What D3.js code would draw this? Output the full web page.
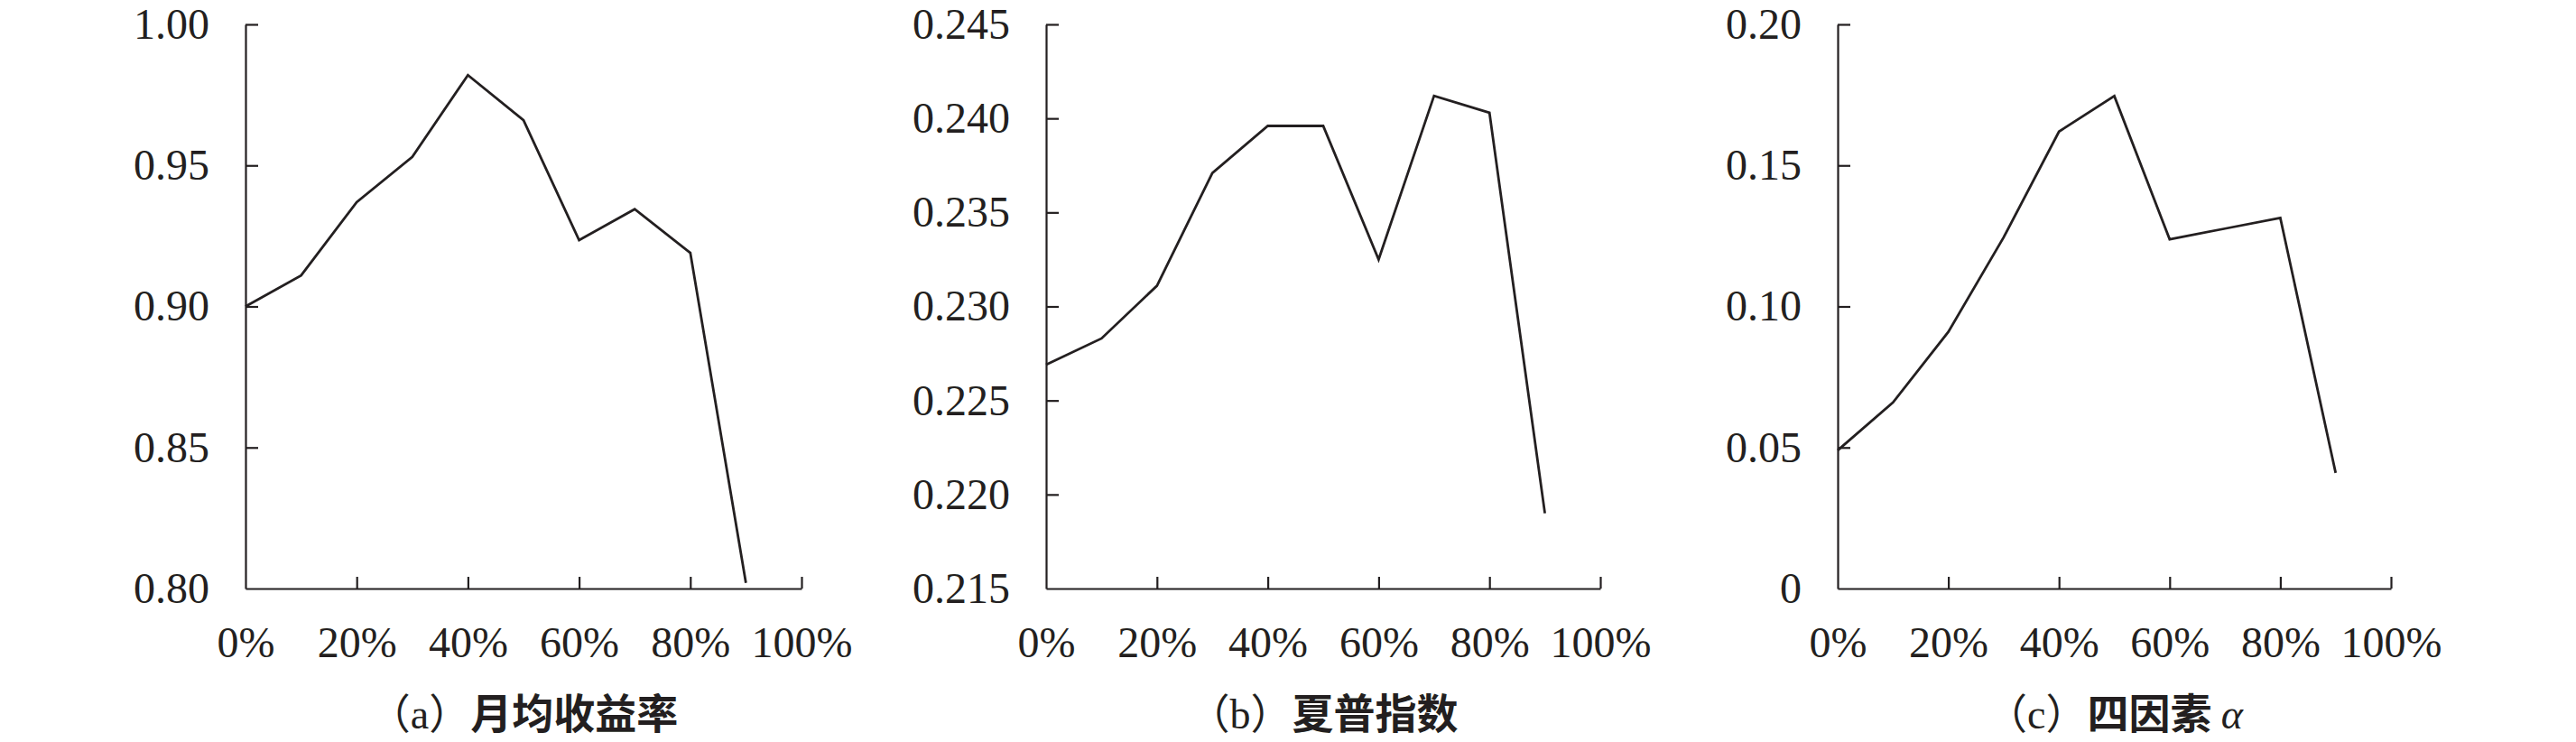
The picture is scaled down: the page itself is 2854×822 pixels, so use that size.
<!DOCTYPE html>
<html>
<head>
<meta charset="utf-8">
<script src="https://cdn.jsdelivr.net/npm/d3@7"></script>
<style>
  html, body { margin: 0; padding: 0; background: #fff; }
  svg { display: block; }
  .tick text { font-family: "Liberation Serif", "Times New Roman", serif; fill: #231f20; }
</style>
</head>
<body>
<svg id="chart" width="2854" height="822"></svg>
<script>
// ---------------- data ----------------
const xValues = [0, 10, 20, 30, 40, 50, 60, 70, 80, 90];          // percentage
const xTickValues = [0, 20, 40, 60, 80, 100];
const xTickLabels = ["0%", "20%", "40%", "60%", "80%", "100%"];

const returnValues = [0.900, 0.911, 0.937, 0.953, 0.982, 0.966, 0.9235, 0.9345, 0.919, 0.802];
const sharpeValues = [0.2269, 0.2283, 0.2311, 0.2371, 0.2396, 0.2396, 0.2325, 0.2412, 0.2403, 0.2190];
const alphaValues  = [0.049, 0.066, 0.091, 0.1245, 0.162, 0.1746, 0.1238, 0.1276, 0.1314, 0.041];

const yTicksA = [0.80, 0.85, 0.90, 0.95, 1.00];
const yLabelsA = ["0.80", "0.85", "0.90", "0.95", "1.00"];
const yTicksB = [0.215, 0.220, 0.225, 0.230, 0.235, 0.240, 0.245];
const yLabelsB = ["0.215", "0.220", "0.225", "0.230", "0.235", "0.240", "0.245"];
const yTicksC = [0, 0.05, 0.10, 0.15, 0.20];
const yLabelsC = ["0", "0.05", "0.10", "0.15", "0.20"];

const titlePrefixes = ["（a）", "（b）", "（c）"];
const titleTexts = ["月均收益率", "夏普指数", "四因素 "];
const titleSuffixes = ["", "", "α"];

// ---------------- layout ----------------
const panels = [
  { left: 272, right: 888, values: returnValues, ticks: yTicksA, labels: yLabelsA },
  { left: 1159, right: 1773, values: sharpeValues, ticks: yTicksB, labels: yLabelsB },
  { left: 2036, right: 2649, values: alphaValues, ticks: yTicksC, labels: yLabelsC }
];
const plotTop = 27, plotBottom = 652;
const ink = "#231f20";

const svg = d3.select("#chart");

panels.forEach((p, i) => {
  const x = d3.scaleLinear().domain([0, 100]).range([p.left, p.right]);
  const y = d3.scaleLinear().domain([p.ticks[0], p.ticks[p.ticks.length - 1]]).range([plotBottom, plotTop]);
  const g = svg.append("g");

  const yAxis = d3.axisLeft(y)
    .tickValues(p.ticks)
    .tickFormat((d, k) => p.labels[k])
    .tickSizeInner(-14)
    .tickSizeOuter(0)
    .tickPadding(40);
  const ya = g.append("g").attr("transform", `translate(${p.left},0)`).call(yAxis);

  const xAxis = d3.axisBottom(x)
    .tickValues(xTickValues)
    .tickFormat((d, k) => xTickLabels[k])
    .tickSizeInner(-13)
    .tickSizeOuter(0)
    .tickPadding(42);
  const xa = g.append("g").attr("transform", `translate(0,${plotBottom})`).call(xAxis);

  [ya, xa].forEach(a => {
    a.select(".domain").attr("stroke", ink).attr("stroke-width", 2.2);
    a.selectAll(".tick line").attr("stroke", ink).attr("stroke-width", 2.2);
    a.selectAll(".tick text").attr("font-size", 48).attr("fill", ink);
  });
  xa.selectAll(".tick").filter(d => d === 0).select("line").remove();
  ya.selectAll(".tick").filter(d => d === p.ticks[0]).select("line").remove();

  const line = d3.line().x((d, k) => x(xValues[k])).y(d => y(d));
  g.append("path")
    .datum(p.values)
    .attr("d", line)
    .attr("fill", "none")
    .attr("stroke", ink)
    .attr("stroke-width", 2.8)
    .attr("stroke-linejoin", "miter");

  const t = g.append("text")
    .attr("x", (p.left + p.right) / 2)
    .attr("y", 807)
    .attr("text-anchor", "middle")
    .attr("font-size", 46)
    .attr("fill", ink);
  t.append("tspan")
    .attr("font-family", "'Liberation Serif', 'Noto Sans CJK SC', serif")
    .text(titlePrefixes[i]);
  t.append("tspan")
    .attr("font-family", "'Noto Sans CJK SC', sans-serif")
    .attr("font-weight", 600)
    .text(titleTexts[i]);
  if (titleSuffixes[i]) {
    t.append("tspan")
      .attr("font-family", "'Liberation Serif', serif")
      .attr("font-style", "italic")
      .text(titleSuffixes[i]);
  }
});
</script>
</body>
</html>
